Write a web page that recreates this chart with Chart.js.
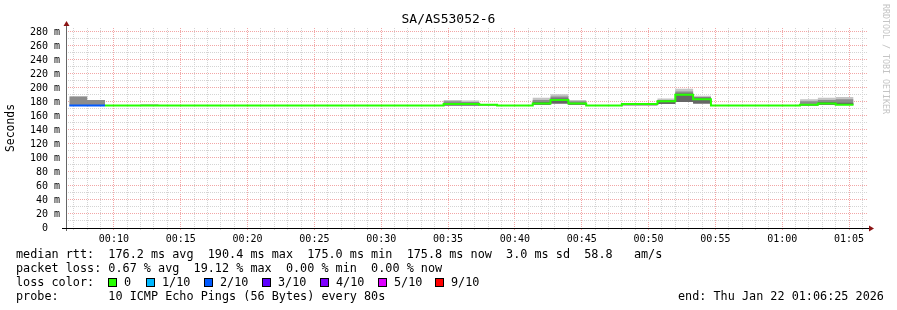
<!DOCTYPE html>
<html>
<head>
<meta charset="utf-8">
<title>SA/AS53052-6</title>
<script src="https://cdn.jsdelivr.net/npm/chart.js"></script>
<style>
    html, body { margin: 0; padding: 0; background: #fff; }
    #wrap { position: relative; width: 897px; height: 310px; overflow: hidden; font-family: "DejaVu Sans Mono", monospace; color: #000; }
    #chart { position: absolute; left: 0; top: 0; }
    #title { position: absolute; left: 0; top: 11px; width: 897px; text-align: center; font-size: 13px; line-height: 16px; }
    #credit { position: absolute; left: 881px; top: 4px; writing-mode: vertical-rl; font-size: 8.3px; line-height: 10px; color: #c4c4c4; white-space: pre; }
    .txt { position: absolute; white-space: pre; font-size: 11.8px; line-height: 14px; }
    .box { position: absolute; width: 7px; height: 7px; border: 1px solid #000; }
</style>
</head>
<body>
<div id="wrap">
    <canvas id="chart" width="897" height="310"></canvas>
    <div id="title">SA/AS53052-6</div>
    <div id="credit">RRDTOOL / TOBI OETIKER</div>
    <div class="txt" style="left:16px; top:247px">median rtt:  176.2 ms avg  190.4 ms max  175.0 ms min  175.8 ms now  3.0 ms sd  58.8   am/s</div>
    <div class="txt" style="left:16px; top:261px">packet loss: 0.67 % avg  19.12 % max  0.00 % min  0.00 % now</div>
    <div class="txt" style="left:16px; top:275px">loss color:</div>
    <div class="txt" style="left:16px; top:289px">probe:       10 ICMP Echo Pings (56 Bytes) every 80s</div>
    <div class="txt" style="left:678px; top:289px">end: Thu Jan 22 01:06:25 2026</div>
</div>
<script>
// time window and probe rounds (one value per 80 s round)
const viewStart = '00:06:25';
const viewEnd = '01:06:25';
const firstProbe = '00:06:40';
const probeSeconds = 80;

// median rtt per round, ms
const medianRtt = [
    175, 175, 175, 175, 175, 175, 175, 175, 175, 175, 175,
    175, 175, 175, 175, 175, 175, 175, 175, 175, 175, 177,
    177, 176, 175, 175, 178, 183, 178, 175, 175, 177, 177,
    181, 190.4, 184, 175, 175, 175, 175, 175, 176, 178, 176
];
// lost pings out of 10 per round
const lossTenths = [
    2, 2, 0, 0, 0, 0, 0, 0, 0, 0, 0,
    0, 0, 0, 0, 0, 0, 0, 0, 0, 0, 0,
    0, 0, 0, 0, 0, 0, 0, 0, 0, 0, 0,
    0, 0, 0, 0, 0, 0, 0, 0, 0, 0, 0
];
// smoke: fastest ping and the upper edges of the light / mid / dark bands, ms
const smokeLow = [
    175, 175, 175, 175, 175, 175, 175, 175, 175, 175, 175,
    175, 175, 175, 175, 175, 175, 175, 175, 175, 175, 175,
    175, 175, 175, 175, 176, 178, 176, 175, 175, 175, 175,
    177, 180, 178, 175, 175, 175, 175, 175, 175, 176, 176
];
const smokeHigh = [
    188, 183, 175, 175, 177, 175, 175, 175, 175, 175, 175,
    175, 175, 175, 175, 175, 175, 175, 175, 175, 175, 183,
    182, 177, 175, 175, 186, 191, 183, 175, 175, 178, 178,
    185, 199, 189, 175, 175, 175, 175, 175, 184, 186, 187
];
const smokeMid = [
    188, 183, 175, 175, 175, 175, 175, 175, 175, 175, 175,
    175, 175, 175, 175, 175, 175, 175, 175, 175, 175, 181,
    180, 176, 175, 175, 183, 188, 181, 175, 175, 177, 177,
    183, 195, 187, 175, 175, 175, 175, 175, 181, 183, 184
];
const smokeCore = [
    175, 175, 175, 175, 175, 175, 175, 175, 175, 175, 175,
    175, 175, 175, 175, 175, 175, 175, 175, 175, 175, 178,
    178, 175, 175, 175, 180, 185, 179, 175, 175, 175, 175,
    182, 192, 186, 175, 175, 175, 175, 175, 177, 180, 179
];

const lossLabels = ['0', '1/10', '2/10', '3/10', '4/10', '5/10', '9/10'];
const lossColors = ['#26ff00', '#00b8ff', '#0059ff', '#5e00ff', '#7e00ff', '#dd00ff', '#ff0000'];

const yMax = 285.714;
const majorGrid = '#f2a6a6';
const minorGrid = '#d4d4d4';

function toMinutes(hms) {
    const p = hms.split(':').map(Number);
    return p[0] * 60 + p[1] + (p[2] || 0) / 60;
}

function lossColor(tenths) {
    const idx = tenths >= 9 ? 6 : Math.min(tenths, 5);
    return lossColors[idx];
}

const t0 = toMinutes(firstProbe);
const probeMin = probeSeconds / 60;

// stepped series: each round holds its value until the next one
function stepPoints(values) {
    const pts = values.map((v, i) => ({ x: t0 + i * probeMin, y: v }));
    pts.push({ x: t0 + values.length * probeMin, y: values[values.length - 1] });
    return pts;
}

// loss colour legend
(function() {
    const wrap = document.getElementById('wrap');
    const boxX = [108, 146, 204, 262, 320, 378, 435];
    lossLabels.forEach((label, i) => {
        const box = document.createElement('div');
        box.className = 'box';
        box.style.left = boxX[i] + 'px';
        box.style.top = '278px';
        box.style.background = lossColors[i];
        wrap.appendChild(box);
        const txt = document.createElement('div');
        txt.className = 'txt';
        txt.style.left = (boxX[i] + 16) + 'px';
        txt.style.top = '275px';
        txt.textContent = label;
        wrap.appendChild(txt);
    });
})();

// axis lines with the rrdtool arrowheads
const axisArrows = {
    id: 'axisArrows',
    afterDatasetsDraw(chart) {
        const { ctx, chartArea: a } = chart;
        ctx.save();
        ctx.lineWidth = 1;
        ctx.strokeStyle = '#666';
        ctx.beginPath();
        ctx.moveTo(a.left + 0.5, a.top - 3);
        ctx.lineTo(a.left + 0.5, a.bottom + 3);
        ctx.stroke();
        ctx.strokeStyle = '#000';
        ctx.beginPath();
        ctx.moveTo(a.left - 4, a.bottom + 0.5);
        ctx.lineTo(a.right + 2, a.bottom + 0.5);
        ctx.stroke();
        ctx.fillStyle = '#8b1414';
        ctx.beginPath();
        ctx.moveTo(a.left + 0.5, a.top - 7);
        ctx.lineTo(a.left - 2.5, a.top - 2);
        ctx.lineTo(a.left + 3.5, a.top - 2);
        ctx.closePath();
        ctx.fill();
        ctx.beginPath();
        ctx.moveTo(a.right + 6, a.bottom + 0.5);
        ctx.lineTo(a.right + 1, a.bottom - 2.5);
        ctx.lineTo(a.right + 1, a.bottom + 3.5);
        ctx.closePath();
        ctx.fill();
        ctx.restore();
    }
};

Chart.defaults.font.family = '"DejaVu Sans Mono", monospace';
Chart.defaults.color = '#000';

function smokeSet(values, fillTo, color, order) {
    return {
        data: stepPoints(values),
        stepped: 'before',
        borderWidth: 0,
        pointRadius: 0,
        backgroundColor: color,
        fill: fillTo,
        order: order
    };
}

new Chart(document.getElementById('chart'), {
    type: 'line',
    data: {
        datasets: [
            { data: stepPoints(smokeLow), stepped: 'before', borderWidth: 0, pointRadius: 0, fill: false, order: 10 },
            smokeSet(smokeHigh, '-1', '#c4c4c4', 9),
            smokeSet(smokeMid, '-2', '#8c8c8c', 8),
            smokeSet(smokeCore, '-3', '#666666', 7),
            {
                data: stepPoints(medianRtt),
                stepped: 'before',
                borderWidth: 2,
                pointRadius: 0,
                fill: false,
                borderColor: lossColors[0],
                segment: {
                    borderColor: c => lossColor(lossTenths[c.p0DataIndex])
                },
                order: 0
            }
        ]
    },
    options: {
        responsive: false,
        animation: false,
        events: [],
        layout: { padding: { left: 0, right: 29, top: 28, bottom: 0 } },
        plugins: { legend: { display: false }, tooltip: { enabled: false } },
        scales: {
            x: {
                type: 'linear',
                min: toMinutes(viewStart),
                max: toMinutes(viewEnd),
                offset: false,
                afterFit: s => { s.height = 82; },
                // one tick per whole minute
                afterBuildTicks: s => {
                    const t = [];
                    for (let m = Math.ceil(s.min); m <= s.max; m++) t.push({ value: m });
                    s.ticks = t;
                },
                border: { display: false, dash: [1, 1] },
                grid: {
                    color: c => c.tick && Math.round(c.tick.value) % 5 === 0 ? majorGrid : minorGrid,
                    tickLength: 2,
                    drawTicks: true
                },
                ticks: {
                    autoSkip: false,
                    maxRotation: 0,
                    minRotation: 0,
                    padding: 3,
                    font: { size: 10 },
                    callback: v => {
                        const m = Math.round(v);
                        if (m % 5 !== 0) return '';
                        const hh = String(Math.floor(m / 60)).padStart(2, '0');
                        const mm = String(m % 60).padStart(2, '0');
                        return hh + ':' + mm;
                    }
                }
            },
            y: {
                type: 'linear',
                min: 0,
                max: yMax,
                afterFit: s => { s.width = 66; },
                border: { display: false, dash: [1, 1] },
                grid: {
                    color: c => c.tick && c.tick.value % 20 === 0 ? majorGrid : minorGrid,
                    drawTicks: false
                },
                ticks: {
                    stepSize: 10,
                    autoSkip: false,
                    includeBounds: false,
                    padding: 6,
                    font: { size: 10 },
                    callback: v => v % 20 !== 0 ? '' : (v === 0 ? '0  ' : v + ' m')
                },
                title: {
                    display: true,
                    text: 'Seconds',
                    font: { size: 11.4 },
                    padding: { top: 4, bottom: 0 }
                }
            }
        }
    },
    plugins: [axisArrows]
});
</script>
</body>
</html>
